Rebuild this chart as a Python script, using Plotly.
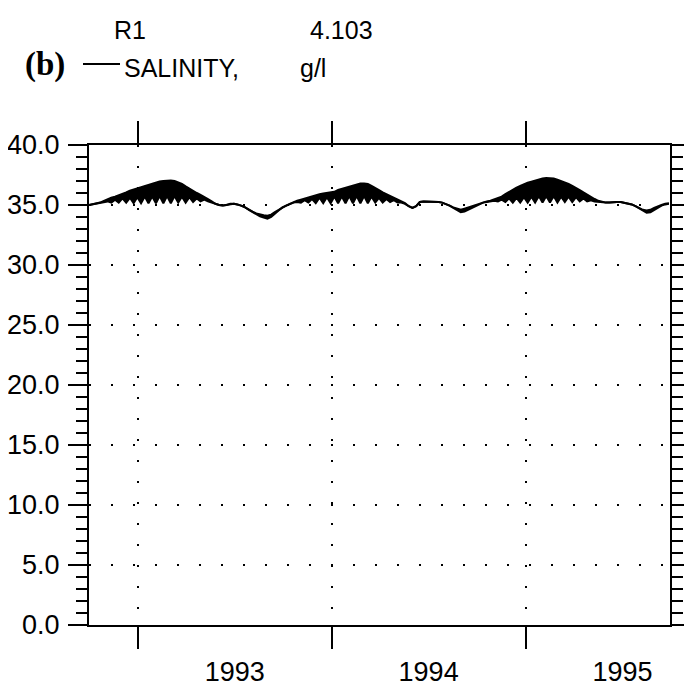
import plotly.graph_objects as go
import pandas as pd

# ---- data ----
dates = pd.date_range("1992-10-01", periods=157, freq="7D")

sal_low = [
    35.0, 35.05, 35.1, 35.15, 35.2, 35.3, 35.2, 35.45, 35.2, 35.55,
    35.2, 35.6, 35.15, 35.65, 35.15, 35.7, 35.15, 35.7, 35.15, 35.75,
    35.15, 35.75, 35.15, 35.75, 35.2, 35.7, 35.2, 35.65, 35.25, 35.55,
    35.3, 35.45, 35.3, 35.2, 35.05, 35.0, 34.95, 35.0, 35.1, 35.1,
    35.05, 34.95, 34.8, 34.6, 34.4, 34.25, 34.05, 33.95, 33.85, 34.0,
    34.3, 34.55, 34.8, 34.95, 35.1, 35.2, 35.25, 35.2, 35.4, 35.2,
    35.5, 35.15, 35.6, 35.15, 35.65, 35.15, 35.7, 35.15, 35.7, 35.15,
    35.75, 35.15, 35.75, 35.15, 35.75, 35.15, 35.7, 35.2, 35.6, 35.2,
    35.5, 35.25, 35.4, 35.2, 35.2, 35.1, 34.9, 34.75, 34.9, 35.25,
    35.3, 35.3, 35.3, 35.3, 35.25, 35.2, 35.1, 34.95, 34.75, 34.55,
    34.4, 34.45, 34.6, 34.8, 34.95, 35.1, 35.2, 35.25, 35.3, 35.35,
    35.3, 35.45, 35.25, 35.55, 35.2, 35.6, 35.2, 35.65, 35.2, 35.7,
    35.2, 35.75, 35.2, 35.75, 35.2, 35.75, 35.2, 35.7, 35.25, 35.7,
    35.25, 35.65, 35.3, 35.55, 35.3, 35.4, 35.3, 35.25, 35.2, 35.2,
    35.2, 35.25, 35.25, 35.25, 35.2, 35.15, 35.05, 34.9, 34.7, 34.5,
    34.35, 34.4, 34.6, 34.8, 34.95, 35.05, 35.1,
]

sal_high = [
    35.0, 35.05, 35.1, 35.2, 35.35, 35.5, 35.6, 35.7, 35.8, 35.95,
    36.05, 36.2, 36.3, 36.4, 36.5, 36.6, 36.7, 36.8, 36.85, 36.95,
    37.0, 37.05, 37.05, 37.0, 36.9, 36.75, 36.55, 36.35, 36.15, 36.0,
    35.85, 35.7, 35.5, 35.3, 35.1, 35.0, 34.95, 35.0, 35.1, 35.1,
    35.05, 34.95, 34.8, 34.6, 34.45, 34.3, 34.2, 34.15, 34.1, 34.2,
    34.4, 34.6, 34.8, 34.95, 35.1, 35.25, 35.35, 35.45, 35.55, 35.65,
    35.7, 35.8, 35.9, 35.95, 36.0, 36.05, 36.1, 36.25, 36.35, 36.45,
    36.55, 36.65, 36.75, 36.8, 36.8, 36.75, 36.6, 36.45, 36.25, 36.05,
    35.9, 35.8, 35.65, 35.5, 35.35, 35.15, 34.9, 34.75, 34.9, 35.25,
    35.3, 35.3, 35.3, 35.3, 35.25, 35.2, 35.1, 34.95, 34.8, 34.7,
    34.6, 34.7, 34.8, 34.95, 35.05, 35.15, 35.25, 35.3, 35.35, 35.45,
    35.55, 35.7, 35.9, 36.1, 36.3, 36.45, 36.6, 36.75, 36.85, 36.95,
    37.05, 37.15, 37.2, 37.25, 37.25, 37.2, 37.1, 37.0, 36.9, 36.75,
    36.6, 36.45, 36.25, 36.05, 35.85, 35.65, 35.5, 35.35, 35.25, 35.2,
    35.2, 35.25, 35.25, 35.25, 35.2, 35.15, 35.05, 34.9, 34.75, 34.6,
    34.55, 34.6, 34.75, 34.9, 35.0, 35.1, 35.15,
]

x_range = ["1992-10-01", "1995-09-30"]
y_range = [0, 40]
series_name = "SALINITY,"
unit_label = "g/l"
station_label = "R1"
value_label = "4.103"
panel_label = "(b)"

FONT = "Liberation Sans Narrow, Liberation Sans, Arial, sans-serif"
SERIF = "Liberation Serif, Times New Roman, serif"

fig = go.Figure()
fig.add_trace(go.Scatter(
    x=dates, y=sal_low, mode="lines",
    line=dict(color="black", width=2), showlegend=False, name=series_name,
))
fig.add_trace(go.Scatter(
    x=dates, y=sal_high, mode="lines",
    line=dict(color="black", width=2), fill="tonexty", fillcolor="black",
    showlegend=False, name=series_name,
))

L, R, T, B = 81, 30, 137, 76
W, H = 692, 693
pw, ph = W - L - R, H - T - B


def px(x):
    return (x - L) / pw


def py(y):
    return (H - B - y) / ph


fig.update_layout(
    width=W, height=H, autosize=False,
    margin=dict(l=L, r=R, t=T, b=B, pad=0, autoexpand=False),
    paper_bgcolor="white", plot_bgcolor="white",
    font=dict(family=FONT, size=27, color="black"),
    showlegend=False,
)

fig.update_xaxes(
    type="date", range=x_range, automargin=False,
    tickmode="linear", tick0="1993-01-01", dtick="M12",
    tickformat="%Y", ticklabelmode="period",
    ticks="outside", ticklen=22, tickwidth=2, tickcolor="black",
    ticklabelstandoff=0,
    showline=True, linewidth=2, linecolor="black", mirror="ticks",
    showgrid=True, gridcolor="black", gridwidth=2, griddash="2px,19px",
    zeroline=False,
    tickfont=dict(family=FONT, size=27, color="black"),
)
fig.update_yaxes(
    range=y_range, automargin=False,
    tickmode="linear", tick0=0, dtick=5, tickformat=".1f",
    ticks="outside", ticklen=19, tickwidth=2, tickcolor="black",
    ticklabelstandoff=3,
    minor=dict(dtick=1, ticks="outside", ticklen=11, tickwidth=2,
               tickcolor="black", showgrid=False),
    showline=True, linewidth=2, linecolor="black", mirror="ticks",
    showgrid=True, gridcolor="black", gridwidth=2, griddash="2px,20px",
    zeroline=False,
    tickfont=dict(family=FONT, size=27, color="black"),
)

ann_font = dict(family=FONT, size=25, color="black")
fig.add_annotation(text=station_label, x=px(122), y=py(22), xref="paper", yref="paper",
                   showarrow=False, xanchor="center", yanchor="middle", font=ann_font)
fig.add_annotation(text=value_label, x=px(333), y=py(22), xref="paper", yref="paper",
                   showarrow=False, xanchor="center", yanchor="middle", font=ann_font)
fig.add_annotation(text="<b>" + panel_label + "</b>", x=px(37), y=py(57), xref="paper", yref="paper",
                   showarrow=False, xanchor="center", yanchor="middle",
                   font=dict(family=SERIF, size=33, color="black"))
fig.add_shape(type="line", xref="paper", yref="paper",
              x0=px(75), x1=px(112), y0=py(56), y1=py(56),
              line=dict(color="black", width=2))
fig.add_annotation(text=series_name, x=px(114), y=py(60), xref="paper", yref="paper",
                   showarrow=False, xanchor="left", yanchor="middle", font=ann_font)
fig.add_annotation(text=unit_label, x=px(305), y=py(60), xref="paper", yref="paper",
                   showarrow=False, xanchor="center", yanchor="middle", font=ann_font)

fig.write_html("out.html")
